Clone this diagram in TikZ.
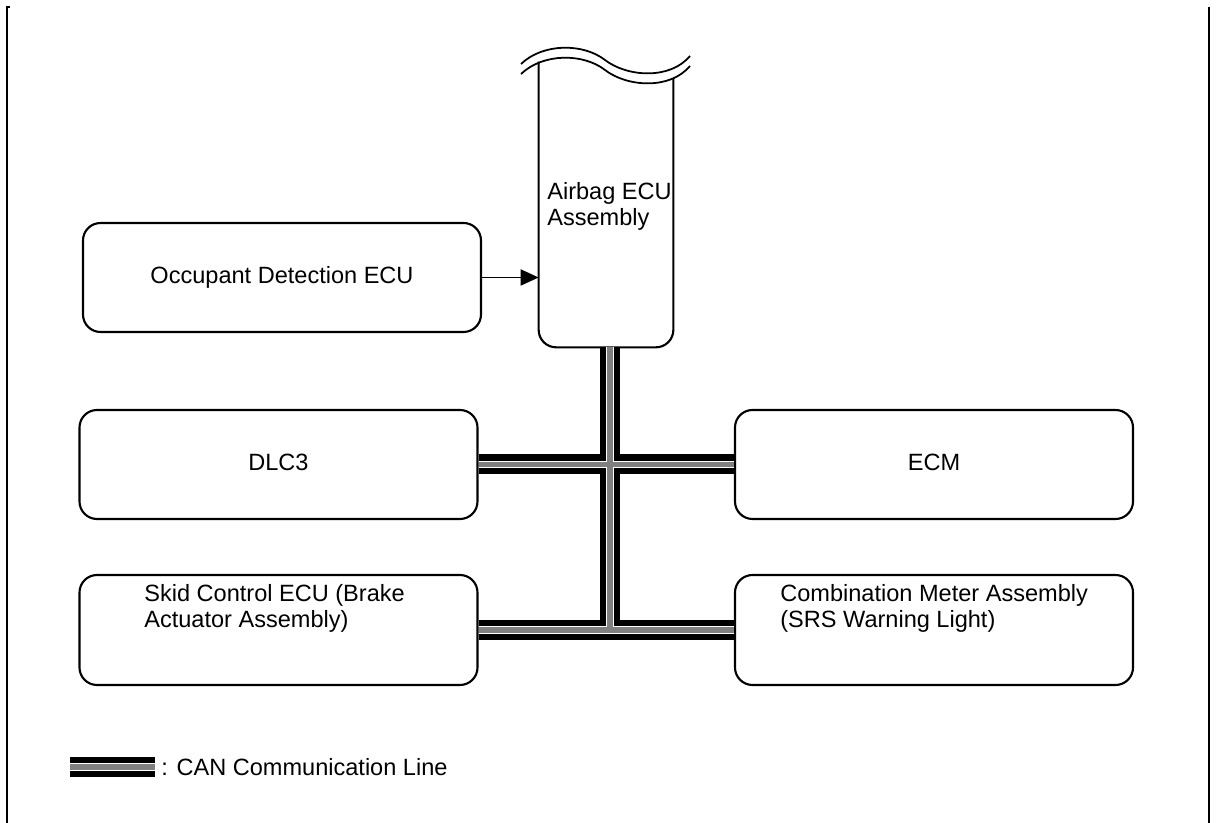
\documentclass[tikz,border=0pt]{standalone}
\usepackage{fontspec}
\setmainfont{Liberation Sans}
\usetikzlibrary{arrows.meta,positioning,calc}

\tikzset{
  ecubox/.style={draw, line width=1.2pt, rounded corners=0.35cm,
    minimum width=7.96cm, minimum height=2.18cm, inner sep=0pt},
  lbl/.style={anchor=north west, align=left, inner sep=0pt},
  canline/.style={line width=0.4cm, draw=black,
    postaction={draw, white, line width=0.15cm},
    postaction={draw, gray, line width=0.11cm}},
  frameline/.style={line width=1.2pt}
}

\begin{document}
\begin{tikzpicture}[every node/.style={font=\fontsize{13.4}{14.8}\selectfont}]
\useasboundingbox (0,0) rectangle (24.34,16.46);

% Page frame
\draw[frameline] (0.2,16.32) -- (0.14,16.32) -- (0.14,0);
\draw[frameline] (24.18,16.32) -- (24.18,0);

% ECU boxes
\node[ecubox] (occupant) at (5.64,10.91) {Occupant Detection ECU};
\node[ecubox] (dlc) at (5.57,7.17) {\raisebox{0.09cm}{DLC3}};
\node[ecubox] (ecm) at (18.68,7.17) {\raisebox{0.09cm}{ECM}};
\node[ecubox, minimum height=2.2cm] (skid) at (5.57,3.86) {};
\node[ecubox, minimum height=2.2cm] (meter) at (18.68,3.86) {};
\node[lbl] (skidlbl) at (2.88,4.78) {Skid Control ECU (Brake\\Actuator Assembly)};
\node[lbl] (meterlbl) at (15.60,4.78) {Combination Meter Assembly\\(SRS Warning Light)};

% Airbag ECU, cut off at the top
\node[minimum width=2.68cm, minimum height=5.70cm, inner sep=0pt] (airbag) at (12.12,12.37) {};
\draw[line width=1.2pt, rounded corners=0.35cm]
  (airbag.north west) |- (airbag.south) -| ([yshift=-0.33cm]airbag.north east);
\foreach \dy in {0,-0.2}{
  \draw[line width=1pt, yshift=\dy cm]
    (10.42,15.18) .. controls (10.86,15.60) and (11.66,15.60) .. (12.10,15.26)
    .. controls (12.54,14.92) and (13.40,14.86) .. (13.80,15.34);
}
\node[anchor=west, align=left, inner sep=0pt] (airbaglbl) at (10.94,12.34) {Airbag ECU\\Assembly};

% Occupant -> Airbag
\draw[line width=1.1pt, -{Triangle[length=0.36cm, width=0.32cm]}]
  (occupant.east) -- (occupant.east -| airbag.west);

% CAN bus
\coordinate (busend) at ([xshift=0.08cm]airbag.south |- skid.east);
\draw[canline] ([xshift=0.08cm]airbag.south) -- (busend)
  (dlc.east) -- (ecm.west)
  (skid.east) -- (meter.west);

% Legend
\coordinate (legA) at (1.40,1.12);
\coordinate (legB) at (3.10,1.12);
\draw[canline] (legA) -- (legB);
\node[anchor=west, inner sep=0pt] (legend) at (3.22,1.12) {: CAN Communication Line};
\end{tikzpicture}
\end{document}
